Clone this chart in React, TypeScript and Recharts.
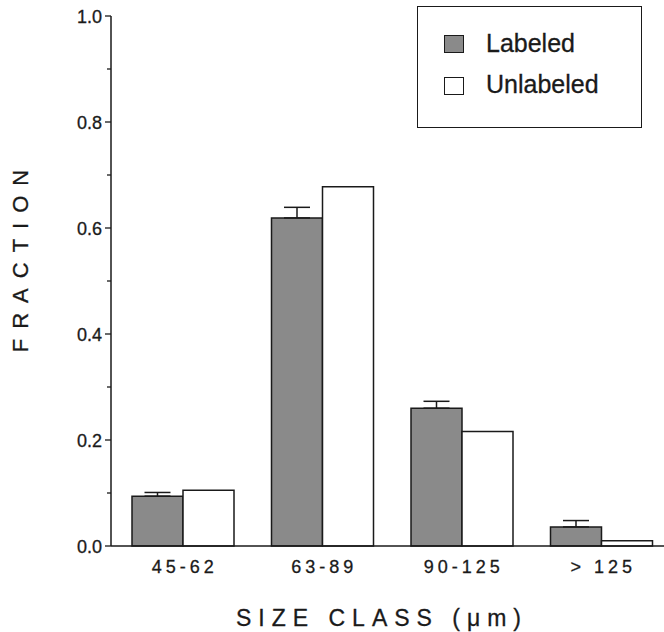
import React from 'react';
import { BarChart, Bar, XAxis, YAxis, ErrorBar, Legend, Label } from 'recharts';

const sizeClasses = ['45-62', '63-89', '90-125', '> 125'];
const labeled = [0.094, 0.619, 0.26, 0.036];
const labeledErr = [0.007, 0.02, 0.013, 0.012];
const unlabeled = [0.105, 0.678, 0.216, 0.01];
const yTicks = [0, 0.1, 0.2, 0.3, 0.4, 0.5, 0.6, 0.7, 0.8, 0.9, 1.0];

const data = sizeClasses.map((size, i) => ({
  size,
  labeled: labeled[i],
  labeledErr: [0, labeledErr[i]],
  unlabeled: unlabeled[i],
}));

const FONT = '"Liberation Sans", Arial, Helvetica, sans-serif';
const INK = '#1a1a1a';

const YTick = ({ x, y, payload }: any) => {
  const major = Math.round(payload.value * 10) % 2 === 0;
  return (
    <g>
      <line x1={x - (major ? 6 : 4)} y1={y} x2={x} y2={y} stroke={INK} strokeWidth={1.3} />
      {major && (
        <text x={x - 9} y={y} dy={7} textAnchor="end" fontSize={18} fill={INK} stroke={INK} strokeWidth={0.3} fontFamily={FONT}>
          {payload.value.toFixed(1)}
        </text>
      )}
    </g>
  );
};

const XTick = ({ x, y, payload }: any) => (
  <text x={x + 2} y={y + 27} textAnchor="middle" fontSize={18} letterSpacing={4} fill={INK} stroke={INK} strokeWidth={0.3} fontFamily={FONT}>
    {payload.value}
  </text>
);

const XTitle = ({ viewBox }: any) => (
  <text x={viewBox.x + viewBox.width / 2 - 9} y={626} textAnchor="middle" fontSize={23} letterSpacing={7} fill={INK} stroke={INK} strokeWidth={0.3} fontFamily={FONT}>
    SIZE CLASS (μm)
  </text>
);

const YTitle = ({ viewBox }: any) => {
  const cx = 20;
  const cy = viewBox.y + viewBox.height / 2 - 25;
  return (
    <text x={cx} y={cy} transform={`rotate(-90 ${cx} ${cy})`} textAnchor="middle" dominantBaseline="central" fontSize={22} letterSpacing={10} fill={INK} stroke={INK} strokeWidth={0.3} fontFamily={FONT}>
      FRACTION
    </text>
  );
};

const LegendBox = ({ payload }: any) => (
  <div style={{ width: 225, height: 122, border: `1.5px solid ${INK}`, boxSizing: 'border-box', background: '#fff', position: 'relative', fontFamily: FONT, fontSize: 25, color: INK, WebkitTextStroke: `0.3px ${INK}` }}>
    {(payload || []).map((entry: any, i: number) => (
      <React.Fragment key={entry.value}>
        <div style={{ position: 'absolute', left: 26, top: 28 + i * 42, width: 20, height: 18, boxSizing: 'border-box', border: `1.5px solid ${INK}`, background: entry.payload?.fill ?? entry.color }} />
        <div style={{ position: 'absolute', left: 68, top: 24 + i * 41, lineHeight: '25px', whiteSpace: 'nowrap' }}>{entry.value}</div>
      </React.Fragment>
    ))}
  </div>
);

export default function App() {
  return (
    <div style={{ position: 'absolute', left: 0, top: 0, width: 664, height: 632, overflow: 'hidden', background: '#fff' }}>
      <BarChart width={672} height={632} data={data} margin={{ top: 16, right: 1, left: 0, bottom: 0 }} barGap={0} barSize={51}>
        <XAxis
          dataKey="size"
          height={86}
          interval={0}
          tickLine={false}
          tickSize={0}
          tickMargin={0}
          padding={{ left: 2, right: 0 }}
          axisLine={{ stroke: INK, strokeWidth: 1.5 }}
          tick={<XTick />}
        >
          <Label content={<XTitle />} />
        </XAxis>
        <YAxis
          type="number"
          domain={[0, 1]}
          ticks={yTicks}
          width={111}
          tickLine={false}
          tickSize={0}
          tickMargin={0}
          axisLine={{ stroke: INK, strokeWidth: 1.5 }}
          tick={<YTick />}
        >
          <Label content={<YTitle />} />
        </YAxis>
        <Legend
          layout="vertical"
          align="center"
          verticalAlign="middle"
          wrapperStyle={{ left: 417, top: 6, width: 225, height: 122 }}
          content={<LegendBox />}
        />
        <Bar dataKey="labeled" name="Labeled" fill="#8a8a8a" stroke={INK} strokeWidth={1.5} isAnimationActive={false}>
          <ErrorBar dataKey="labeledErr" direction="y" width={13} stroke={INK} strokeWidth={1.5} />
        </Bar>
        <Bar dataKey="unlabeled" name="Unlabeled" fill="#ffffff" stroke={INK} strokeWidth={1.5} isAnimationActive={false} />
      </BarChart>
    </div>
  );
}
